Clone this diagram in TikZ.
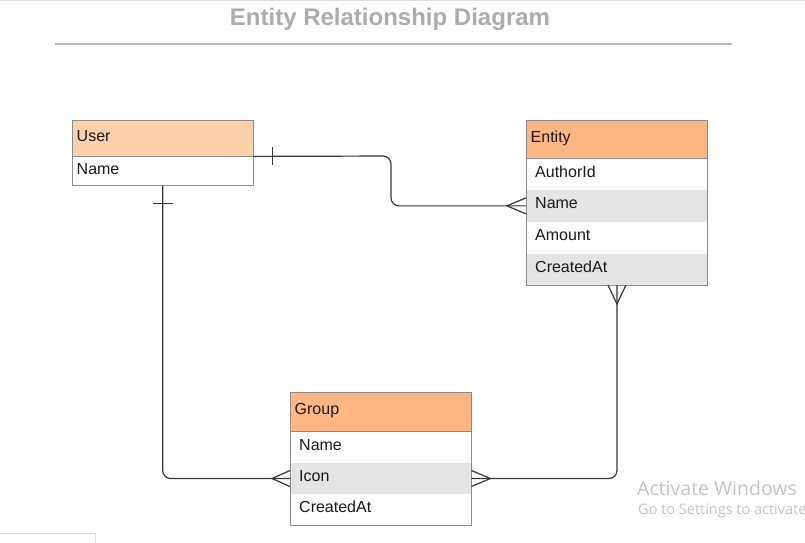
\documentclass[tikz,border=0pt]{standalone}
\usepackage{fontspec}
\setmainfont{Liberation Sans}
\newfontfamily\wmfont{Open Sans}
\usetikzlibrary{calc}
\definecolor{hdrlight}{RGB}{255,209,170}
\definecolor{hdr}{RGB}{255,182,130}
\definecolor{rowgray}{RGB}{228,228,228}
\definecolor{boxline}{RGB}{140,140,140}
\definecolor{titlegray}{RGB}{172,172,172}
\definecolor{rulegray}{RGB}{185,185,185}
\definecolor{wmgray}{RGB}{195,195,195}
\definecolor{conncol}{RGB}{55,55,55}
\tikzset{
  cellbase/.style={anchor=north west, inner ysep=0pt, align=left, text height=11pt, text depth=5pt, font=\fontsize{16}{19}\selectfont, text=black!90},
  hdrcell/.style={cellbase, minimum height=#1, inner xsep=4.5pt, text width=172pt},
  rowcell/.style={cellbase, minimum height=#1, inner xsep=9pt, text width=163pt},
  plaincell/.style={cellbase, minimum height=#1, inner xsep=4.5pt, text width=172pt},
  border/.style={draw=boxline, line width=1pt},
  conn/.style={draw=conncol, line width=1.2pt, rounded corners=8pt},
  tickmark/.style={draw=conncol, line width=1.2pt},
}
\begin{document}
\begin{tikzpicture}[x=1pt,y=-1pt]
\useasboundingbox (0,0) rectangle (805,542);
\fill[white] (0,0) rectangle (805,542);
% top border and title
\draw[gray!25, line width=1pt] (0,0.5) -- (805,0.5);
\node[font=\bfseries\fontsize{24}{28}\selectfont, text=titlegray] (title) at (390,19) {Entity Relationship Diagram};
\coordinate (rl) at (55,44);
\coordinate (rr) at (732,44);
\draw[rulegray, line width=2pt] (rl) -- (rr);

% User table
\node[hdrcell=36pt, fill=hdrlight] (uh) at (72,120) {User};
\node[plaincell=29pt, fill=white] (u1) at (uh.south west) {Name};
\draw[border] (uh.north west) rectangle (u1.south east);
\draw[border] (uh.south west) -- (uh.south east);

% Entity table
\node[hdrcell=38pt, fill=hdr, text width=172.5pt] (eh) at (526,120) {Entity};
\node[rowcell=31.25pt, fill=white, text width=163.5pt] (e1) at (eh.south west) {AuthorId};
\node[rowcell=31.25pt, fill=rowgray, text width=163.5pt] (e2) at (e1.south west) {Name};
\node[rowcell=31.25pt, fill=white, text width=163.5pt] (e3) at (e2.south west) {Amount};
\node[rowcell=31.25pt, fill=rowgray, text width=163.5pt] (e4) at (e3.south west) {CreatedAt};
\draw[border] (eh.north west) rectangle (e4.south east);
\draw[border] (eh.south west) -- (eh.south east);

% Group table
\node[hdrcell=39pt, fill=hdr] (gh) at (290,392) {Group};
\node[rowcell=31pt, fill=white] (g1) at (gh.south west) {Name};
\node[rowcell=31pt, fill=rowgray] (g2) at (g1.south west) {Icon};
\node[rowcell=31pt, fill=white] (g3) at (g2.south west) {CreatedAt};
\draw[border] (gh.north west) rectangle (g3.south east);
\draw[border] (gh.south west) -- (gh.south east);

% connector User -> Entity
\coordinate (b1) at (391,156);
\draw[conn] (uh.south east) -- (b1) |- (e2.west);
\draw[tickmark] ($(uh.south east)+(19,-9)$) -- ($(uh.south east)+(19,9)$);
\draw[tickmark] ($(e2.west)+(0,-8)$) -- ($(e2.west)+(-19,0)$) -- ($(e2.west)+(0,8)$);

% connector User -> Group
\draw[conn] (u1.south) |- (g2.west);
\draw[tickmark] ($(u1.south)+(-10,18)$) -- ($(u1.south)+(10,18)$);
\draw[tickmark] ($(g2.west)+(0,-8)$) -- ($(g2.west)+(-18,0)$) -- ($(g2.west)+(0,8)$);

% connector Group -> Entity
\draw[conn] (g2.east) -| (e4.south);
\draw[tickmark] ($(g2.east)+(0,-8)$) -- ($(g2.east)+(19,0)$) -- ($(g2.east)+(0,8)$);
\draw[tickmark] ($(e4.south)+(-9,0)$) -- ($(e4.south)+(0,19)$) -- ($(e4.south)+(9,0)$);

% watermark
\node[anchor=west, inner sep=0pt, text=wmgray, font=\wmfont\fontsize{19.5}{23}\selectfont] (wm1) at (637,488) {Activate Windows};
\node[anchor=west, inner sep=0pt, text=wmgray, font=\wmfont\fontsize{14.5}{17}\selectfont] (wm2) at (638,511) {Go to Settings to activate};

% bottom-left fragment
\draw[gray!25, line width=1pt] (-1,533.5) rectangle (95,545);
\end{tikzpicture}
\end{document}
